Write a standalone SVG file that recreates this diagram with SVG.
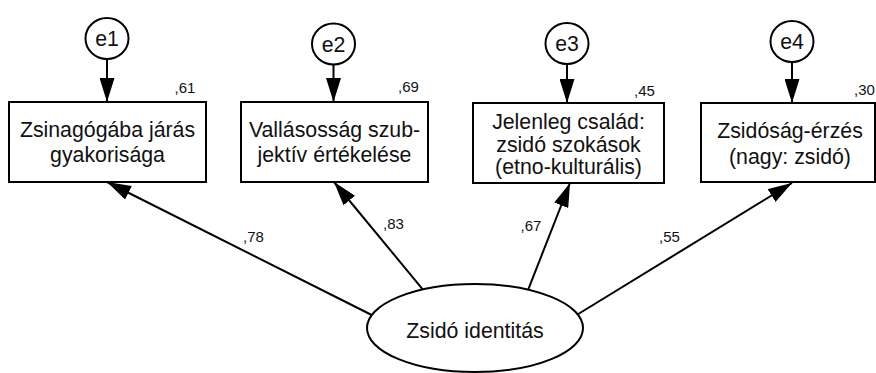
<svg xmlns="http://www.w3.org/2000/svg" width="876" height="373" viewBox="0 0 876 373">
<defs>
<style>
.box{fill:#fff;stroke:#000;stroke-width:2}
.err{fill:#fff;stroke:#000;stroke-width:2}
.t{font-family:"Liberation Sans",Arial,sans-serif;font-size:21.3px;fill:#111;text-anchor:middle}
.lbl{font-family:"Liberation Sans",Arial,sans-serif;font-size:15px;fill:#111}
.c{stroke:#000;stroke-width:2;fill:none;marker-end:url(#ah)}
</style>
<marker id="ah" markerUnits="userSpaceOnUse" markerWidth="24" markerHeight="15" refX="24" refY="7.5" orient="auto">
<path d="M0,0 L24,7.5 L0,15 z" fill="#000"/>
</marker>
</defs>
<rect width="876" height="373" fill="#fff"/>
<g id="connectors">
<line class="c" x1="107" y1="59" x2="107" y2="102"/>
<line class="c" x1="333.5" y1="65" x2="333.5" y2="102"/>
<line class="c" x1="567" y1="64.5" x2="567" y2="103"/>
<line class="c" x1="792" y1="62" x2="792" y2="103"/>
<line class="c" x1="371.7" y1="315" x2="107" y2="182"/>
<line class="c" x1="422.7" y1="289.3" x2="334" y2="182"/>
<line class="c" x1="528.3" y1="289.3" x2="570" y2="183"/>
<line class="c" x1="578.3" y1="314" x2="792" y2="183"/>
<text class="lbl" x="243" y="242">,78</text>
<text class="lbl" x="383" y="229">,83</text>
<text class="lbl" x="520.5" y="231">,67</text>
<text class="lbl" x="659" y="242">,55</text>
</g>
<g id="e1"><ellipse class="err" cx="107" cy="38.5" rx="21.5" ry="20.5"/><text class="t" x="107" y="46">e1</text></g>
<g id="e2"><ellipse class="err" cx="333.5" cy="44" rx="21.5" ry="20.5"/><text class="t" x="333.5" y="51.5">e2</text></g>
<g id="e3"><ellipse class="err" cx="567" cy="43.5" rx="21.5" ry="20.5"/><text class="t" x="567" y="51">e3</text></g>
<g id="e4"><ellipse class="err" cx="792" cy="41.5" rx="21.5" ry="20.5"/><text class="t" x="792" y="49">e4</text></g>
<g id="v1"><rect class="box" x="9" y="102" width="197" height="80"/>
<text class="t" x="107.5" y="137">Zsinagógába járás</text>
<text class="t" x="107.5" y="162">gyakorisága</text>
<text class="lbl" x="174.5" y="93">,61</text></g>
<g id="v2"><rect class="box" x="241" y="102" width="187" height="80"/>
<text class="t" x="334.5" y="137">Vallásosság szub-</text>
<text class="t" x="334.5" y="162">jektív értékelése</text>
<text class="lbl" x="398" y="92">,69</text></g>
<g id="v3"><rect class="box" x="473" y="103" width="191" height="80"/>
<text class="t" x="568.5" y="128.5">Jelenleg család:</text>
<text class="t" x="568.5" y="151.5">zsidó szokások</text>
<text class="t" x="568.5" y="174">(etno-kulturális)</text>
<text class="lbl" x="634" y="95.5">,45</text></g>
<g id="v4"><rect class="box" x="701" y="103" width="174" height="79"/>
<text class="t" x="790" y="137.5">Zsidóság-érzés</text>
<text class="t" x="790" y="163.5">(nagy: zsidó)</text>
<text class="lbl" x="854" y="95">,30</text></g>
<g id="f1"><ellipse class="err" cx="475" cy="328" rx="108" ry="44"/>
<text class="t" x="475" y="338">Zsidó identitás</text></g>
</svg>
